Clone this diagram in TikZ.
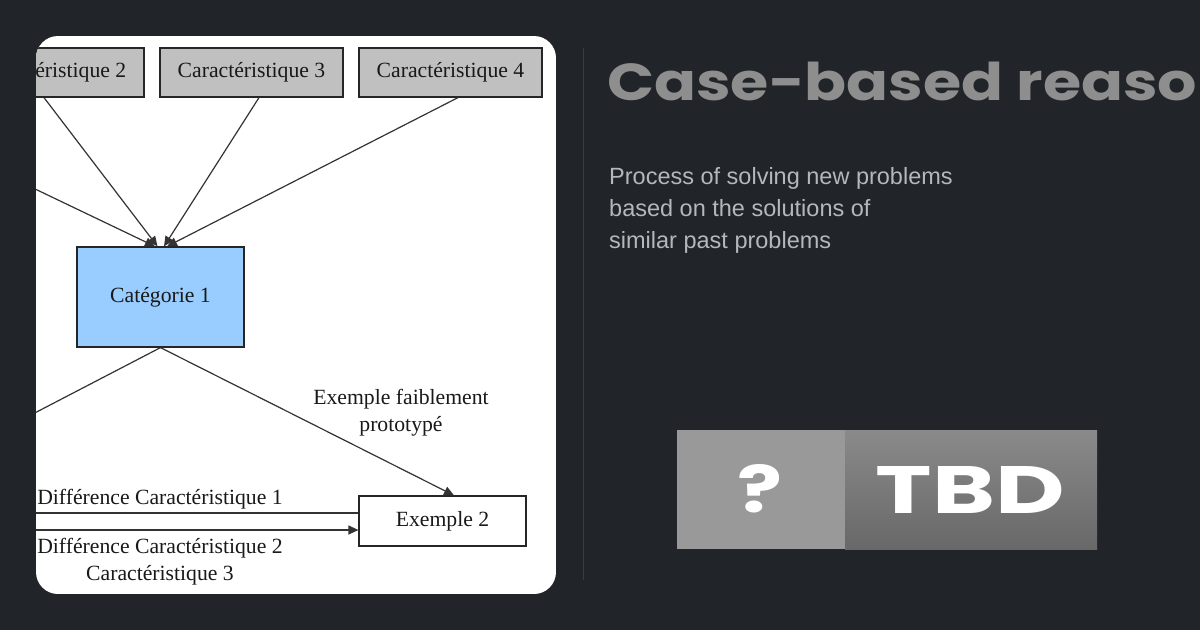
\documentclass[tikz,border=0pt]{standalone}
\usepackage{fontspec}
\setmainfont{Liberation Serif}
\newfontfamily\descfont{Liberation Sans}
\newfontfamily\headfont{Poppins}
\usetikzlibrary{arrows.meta,calc}
\definecolor{bgc}{HTML}{212429}
\definecolor{divc}{HTML}{393C41}
\definecolor{titlec}{HTML}{8E8E8E}
\definecolor{descc}{HTML}{B3B8BE}
\definecolor{featc}{HTML}{C0C0C0}
\definecolor{catc}{HTML}{99CCFF}
\definecolor{linec}{HTML}{333333}
\definecolor{badgel}{HTML}{999999}
\definecolor{badgetop}{HTML}{8A8A8A}
\definecolor{badgebot}{HTML}{686868}
\tikzset{
  featbox/.style={draw=black!85,line width=1.2pt,fill=featc,minimum width=183pt,minimum height=49pt,inner sep=0pt,font=\fontsize{21.7}{26}\selectfont,text=black!90},
  catbox/.style={draw=black!85,line width=1.2pt,fill=catc,minimum width=167pt,minimum height=100pt,inner sep=0pt,font=\fontsize{21.7}{26}\selectfont,text=black!90},
  exbox/.style={draw=black!85,line width=1.2pt,fill=white,minimum width=167pt,minimum height=50pt,inner sep=0pt,font=\fontsize{21.7}{26}\selectfont,text=black!90},
  conn/.style={draw=linec,line width=1.2pt},
  arr/.style={conn,-{Triangle[length=10pt,width=9pt]}},
  lbl/.style={font=\fontsize{21.7}{27}\selectfont,text=black!90,align=center,inner sep=0pt},
}
\begin{document}
\begin{tikzpicture}[x=1pt,y=-1pt]
\useasboundingbox (0,0) rectangle (1200,630);
\fill[bgc] (0,0) rectangle (1200,630);
% panel
\begin{scope}
\clip[rounded corners=22pt] (36,36) rectangle (556,594);
\fill[white] (36,36) rectangle (556,594);
\node[featbox] (c2) at (52.5,72.5) {Caractéristique 2};
\node[featbox] (c3) at (251.5,72.5) {Caractéristique 3};
\node[featbox] (c4) at (450.5,72.5) {Caractéristique 4};
\node[catbox] (cat) at (160.5,297) {Catégorie 1};
\node[exbox] (ex2) at (442.5,521) {Exemple 2};
\coordinate (c1b) at (-155,98);
\coordinate (ex1t) at (-125,496);
\coordinate (ex1r1) at (-60,513);
\coordinate (ex1r2) at (-60,530);
\draw[arr] (c1b) -- ($(cat.north)+(-5.5,0)$);
\draw[arr] ($(c2.south)+(-8.5,0)$) -- ($(cat.north)+(-3,0)$);
\draw[arr] ($(c3.south)+(7.5,0)$) -- ($(cat.north)+(3.5,0)$);
\draw[arr] ($(c4.south)+(7.5,0)$) -- ($(cat.north)+(6.5,0)$);
\draw[arr] (cat.south) -- (ex1t);
\draw[arr] (cat.south) -- ($(ex2.north)+(11.5,0)$);
\draw[conn] (ex1r1) -- (ex1r1 -| ex2.west);
\draw[arr] (ex1r2) -- (ex1r2 -| ex2.west);
\node[lbl] (lw) at (401,413) {Exemple faiblement\\prototypé};
\node[lbl] (ld1) at (160,499) {Différence Caractéristique 1};
\node[lbl] (ld2) at (160,561.5) {Différence Caractéristique 2\\Caractéristique 3};
\end{scope}
% divider
\draw[divc,line width=1pt] (583,48) -- (583,580);
% title
\node[anchor=base west,inner sep=0pt,text=titlec,font=\headfont\bfseries\fontsize{52}{60}\selectfont] (title) at (607,100) {\scalebox{1.19}[1]{Case-based reasoning}};
% description
\node[anchor=base west,inner sep=0pt,text=descc,font=\descfont\fontsize{23.5}{32}\selectfont,align=left] (desc) at (609,248) {Process of solving new problems\\based on the solutions of\\similar past problems};
% badge
\fill[badgel] (677,430) rectangle (845,549);
\shade[top color=badgetop,bottom color=badgebot] (845,430) rectangle (1097,549);
\node[text=white,inner sep=0pt,font=\headfont\bfseries] (q) at (760,489) {\resizebox{45pt}{48pt}{?}};
\node[text=white,inner sep=0pt,font=\headfont\bfseries] (tbd) at (970.5,490) {\resizebox{189pt}{47pt}{TBD}};
\end{tikzpicture}
\end{document}
